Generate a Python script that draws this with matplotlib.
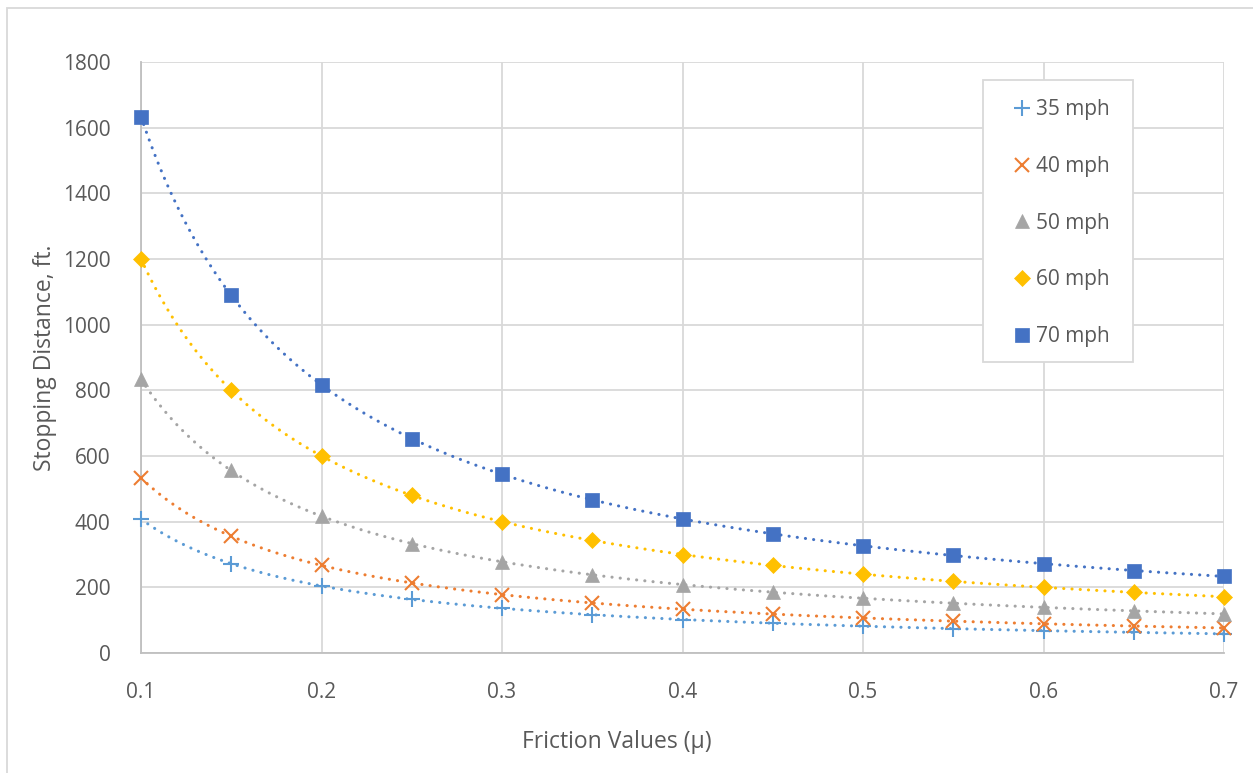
import numpy as np
import matplotlib
matplotlib.use("Agg")
import matplotlib.pyplot as plt
from matplotlib.patches import Rectangle
from matplotlib.lines import Line2D

plt.rcParams['font.family'] = ['Open Sans', 'DejaVu Sans']

# Friction coefficients (x axis)
friction = [0.1, 0.15, 0.2, 0.25, 0.3, 0.35, 0.4, 0.45, 0.5, 0.55, 0.6, 0.65, 0.7]

# Stopping distance (ft) for each speed
dist_35 = [408, 272, 204, 163, 136, 117, 102, 91, 82, 74, 68, 63, 58]
dist_40 = [533, 356, 267, 213, 178, 152, 133, 119, 107, 97, 89, 82, 76]
dist_50 = [833, 556, 417, 333, 278, 238, 208, 185, 167, 152, 139, 128, 119]
dist_60 = [1200, 800, 600, 480, 400, 343, 300, 267, 240, 218, 200, 185, 171]
dist_70 = [1633, 1089, 817, 653, 544, 467, 408, 363, 327, 297, 272, 251, 233]

series_labels = ["35 mph", "40 mph", "50 mph", "60 mph", "70 mph"]
x_ticks = [0.1, 0.2, 0.3, 0.4, 0.5, 0.6, 0.7]
y_ticks = [0, 200, 400, 600, 800, 1000, 1200, 1400, 1600, 1800]

series = [dist_35, dist_40, dist_50, dist_60, dist_70]
colors = ["#5B9BD5", "#ED7D31", "#A5A5A5", "#FFC000", "#4472C4"]
markers = ["+", "x", "^", "D", "s"]
msizes = [11, 10, 10.5, 8.5, 10.5]
mews = [1.5, 1.5, 0.5, 0.5, 0.5]

text_color = "#595959"
grid_color = "#D9D9D9"

W, H = 1253, 773
fig = plt.figure(figsize=(W / 100, H / 100), dpi=100)
ax_l, ax_r, ax_t, ax_b = 141, 1224, 62, 653
ax = fig.add_axes([ax_l / W, 1 - ax_b / H, (ax_r - ax_l) / W, (ax_b - ax_t) / H])

x = np.array(friction)
xs = np.linspace(min(friction), max(friction), 300)
handles = []
for ys, c, m, ms, mew, lab in zip(series, colors, markers, msizes, mews, series_labels):
    y = np.array(ys, dtype=float)
    # power trendline fitted in log-log space
    b, a = np.polyfit(np.log(x), np.log(y), 1)
    ax.plot(xs, np.exp(a) * xs ** b, color=c, lw=2.2,
            linestyle=(0, (0.05, 2.65)), dash_capstyle="round", zorder=2)
    ax.plot(x, y, linestyle="none", marker=m, markersize=ms, color=c,
            markeredgecolor=c, markeredgewidth=mew, zorder=3, clip_on=False)
    handles.append(Line2D([], [], linestyle="none", marker=m, markersize=ms,
                          color=c, markeredgecolor=c, markeredgewidth=mew, label=lab))

ax.set_xlim(0.1, 0.7)
ax.set_ylim(0, 1800)
ax.set_xticks(x_ticks)
ax.set_xticklabels([f"{t:g}" for t in x_ticks])
ax.set_yticks(y_ticks)
ax.set_yticklabels([str(t) for t in y_ticks])
ax.grid(True, color=grid_color, lw=1.3, zorder=0)
ax.set_axisbelow(True)
for s in ["top", "right"]:
    ax.spines[s].set_visible(False)
for s in ["left", "bottom"]:
    ax.spines[s].set_color("#BFBFBF")
    ax.spines[s].set_linewidth(1.3)
ax.tick_params(axis="both", length=0, labelsize=15, labelcolor=text_color)
ax.tick_params(axis="x", pad=21)
ax.tick_params(axis="y", pad=22)

# axis titles placed in figure pixels
fig.text(617 / W, 1 - 742 / H, "Friction Values (\u03bc)", fontsize=16.5,
         color=text_color, ha="center", va="center")
fig.text(45 / W, 1 - 358 / H, "Stopping Distance, ft.", fontsize=16.5,
         color=text_color, ha="center", va="center", rotation=90)

# legend: frame drawn separately, entries without frame
lx0, lx1, ly0, ly1 = 983, 1133, 80, 362
fig.patches.append(Rectangle((lx0 / W, 1 - ly1 / H), (lx1 - lx0) / W, (ly1 - ly0) / H,
                             fill=True, facecolor="white", edgecolor=grid_color, lw=1.3,
                             transform=fig.transFigure, zorder=5))
leg = fig.legend(handles=handles, loc="upper left",
                 bbox_to_anchor=(1012 / W, 1 - 99 / H),
                 frameon=False, fontsize=15, labelcolor=text_color,
                 handlelength=1.0, handletextpad=0.15,
                 labelspacing=1.72, borderpad=0, borderaxespad=0)
leg.set_zorder(6)

# outer chart border
fig.patches.append(Rectangle((7 / W, -0.2), 1.5, 1.2 - 8 / H, fill=False,
                             edgecolor=grid_color, lw=1.3, transform=fig.transFigure))

fig.savefig("out.png", dpi=100)
